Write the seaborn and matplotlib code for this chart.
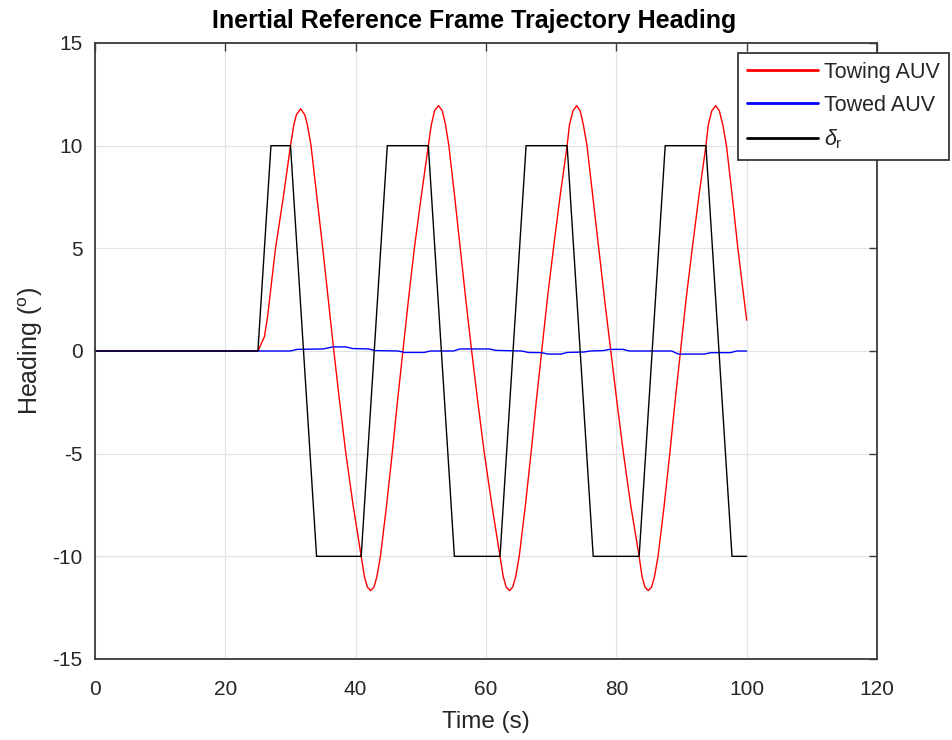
import matplotlib
matplotlib.use("Agg")
import matplotlib.pyplot as plt
import seaborn as sns
import pandas as pd

# ---------------- data ----------------
towing_t = [0.0, 25.0, 26.0, 26.5, 27.0, 27.7, 28.9, 30.0, 30.5, 30.9, 31.55, 32.2, 32.6, 33.15,
            34.05, 34.95, 35.8, 36.65, 37.55, 38.5, 39.6, 40.85, 41.35, 41.8, 42.3, 42.8, 43.25, 43.8,
            44.75, 45.6, 46.4, 47.25, 48.1, 49.0, 50.05, 51.15, 51.6, 52.1, 52.7, 53.3, 53.8, 54.3,
            55.2, 56.05, 56.9, 57.8, 58.75, 59.75, 60.9, 62.15, 62.65, 63.1, 63.6, 64.1, 64.55, 65.1,
            66.05, 66.9, 67.7, 68.55, 69.4, 70.35, 71.35, 72.45, 72.8, 73.35, 73.9, 74.45, 74.95, 75.5,
            76.4, 77.3, 78.2, 79.15, 80.1, 81.1, 82.2, 83.5, 83.95, 84.4, 84.9, 85.4, 85.85, 86.4,
            87.35, 88.2, 89.0, 89.85, 90.7, 91.65, 92.65, 93.75, 94.1, 94.65, 95.25, 95.8, 96.35, 96.9,
            97.8, 98.65, 100.0]
towing_h = [0.0, 0.0, 0.7, 1.7, 3.1, 5.0, 7.5, 10.0, 11.0, 11.5, 11.8, 11.5, 11.0, 10.0,
            7.5, 5.0, 2.5, 0.0, -2.5, -5.0, -7.5, -10.0, -11.0, -11.5, -11.67, -11.5, -11.0, -10.0,
            -7.5, -5.0, -2.5, 0.0, 2.5, 5.0, 7.5, 10.0, 11.0, 11.7, 11.95, 11.7, 11.0, 10.0,
            7.5, 5.0, 2.5, 0.0, -2.5, -5.0, -7.5, -10.0, -11.0, -11.5, -11.67, -11.5, -11.0, -10.0,
            -7.5, -5.0, -2.5, 0.0, 2.5, 5.0, 7.5, 10.0, 11.0, 11.7, 11.95, 11.7, 11.0, 10.0,
            7.5, 5.0, 2.5, 0.0, -2.5, -5.0, -7.5, -10.0, -11.0, -11.5, -11.67, -11.5, -11.0, -10.0,
            -7.5, -5.0, -2.5, 0.0, 2.5, 5.0, 7.5, 10.0, 11.0, 11.7, 11.95, 11.7, 11.0, 10.0,
            7.5, 5.0, 1.5]

towed_t = [0.0, 25.0, 30.0, 31.0, 35.0, 36.5, 38.5, 39.5, 42.0, 43.0, 46.5, 47.5, 50.5, 51.5,
           55.0, 56.0, 60.5, 61.5, 65.5, 66.5, 68.5, 69.5, 71.5, 72.5, 75.0, 76.0, 78.0, 79.0,
           81.0, 82.0, 88.5, 89.5, 93.5, 94.5, 97.5, 98.5, 100.0]
towed_h = [0.0, 0.0, 0.0, 0.08, 0.1, 0.2, 0.2, 0.12, 0.1, 0.02, 0.0, -0.07, -0.07, 0.0,
           0.0, 0.1, 0.1, 0.03, 0.0, -0.07, -0.08, -0.15, -0.15, -0.07, -0.05, 0.0, 0.02, 0.08,
           0.08, 0.0, 0.0, -0.15, -0.15, -0.08, -0.08, 0.0, 0.0]

rudder_t = [0.0, 25.0, 27.0, 30.0, 34.0, 40.85, 44.85, 51.15, 55.15, 62.15, 66.15, 72.45,
            76.45, 83.5, 87.5, 93.75, 97.75, 100.0]
rudder_d = [0.0, 0.0, 10.0, 10.0, -10.0, -10.0, 10.0, 10.0, -10.0, -10.0, 10.0, 10.0,
            -10.0, -10.0, 10.0, 10.0, -10.0, -10.0]

x_ticks = [0, 20, 40, 60, 80, 100, 120]
y_ticks = [-15, -10, -5, 0, 5, 10, 15]

title = "Inertial Reference Frame Trajectory Heading"
x_label = "Time (s)"
y_label = "Heading ($^{\\mathrm{o}}$)"
labels = ["Towing AUV", "Towed AUV", "$\\delta_{\\mathrm{r}}$"]

# ---------------- style ----------------
sns.set_style("white")
plt.rcParams["font.family"] = ["Liberation Sans", "DejaVu Sans"]
plt.rcParams["mathtext.fontset"] = "custom"
plt.rcParams["mathtext.rm"] = "Liberation Sans"
plt.rcParams["mathtext.it"] = "Liberation Sans:italic"

fig = plt.figure(figsize=(9.52, 7.40), dpi=100)
ax = fig.add_axes([95 / 952, 1 - 659 / 740, (877 - 95) / 952, (659 - 43) / 740])

df_tow = pd.DataFrame({"t": towing_t, "h": towing_h})
df_towed = pd.DataFrame({"t": towed_t, "h": towed_h})
df_rud = pd.DataFrame({"t": rudder_t, "h": rudder_d})

sns.lineplot(data=df_tow, x="t", y="h", ax=ax, color="#ff0000", lw=1.0,
             estimator=None, sort=False, label=labels[0])
sns.lineplot(data=df_towed, x="t", y="h", ax=ax, color="#0000ff", lw=1.0,
             estimator=None, sort=False, label=labels[1])
sns.lineplot(data=df_rud, x="t", y="h", ax=ax, color="#000000", lw=1.0,
             estimator=None, sort=False, label=labels[2])

ax.set_xlim(0, 120)
ax.set_ylim(-15, 15)
ax.set_xticks(x_ticks)
ax.set_yticks(y_ticks)
ax.set_xticklabels([str(v) for v in x_ticks])
ax.set_yticklabels([str(v) for v in y_ticks])

ax.grid(True, color="#e3e3e3", lw=0.9)
ax.set_axisbelow(True)
for s in ax.spines.values():
    s.set_color("#3a3a3a")
    s.set_linewidth(1.3)
ax.tick_params(axis="both", direction="in", length=5.5, width=1.0, color="#3a3a3a",
               top=True, right=True, labelsize=15, labelcolor="#262626")
ax.tick_params(axis="x", pad=15)
ax.tick_params(axis="y", pad=9)

ax.set_title(title, fontsize=18, fontweight="bold", color="#000000", pad=11, x=0.4847)
ax.set_xlabel(x_label, fontsize=17.5, color="#262626", labelpad=8.5)
ax.set_ylabel(y_label, fontsize=18, color="#262626", labelpad=5)

leg = ax.legend(loc="upper left", bbox_to_anchor=(738 / 952, 1 - 53 / 740),
                bbox_transform=fig.transFigure, fontsize=15.5, frameon=True,
                fancybox=False, edgecolor="#262626", framealpha=1.0,
                handlelength=3.3, borderpad=0.4, labelspacing=0.56,
                handletextpad=0.3, borderaxespad=0.0)
leg.get_frame().set_linewidth(1.2)
for h in leg.get_lines():
    h.set_linewidth(2.0)

fig.savefig("out.png", dpi=100)
